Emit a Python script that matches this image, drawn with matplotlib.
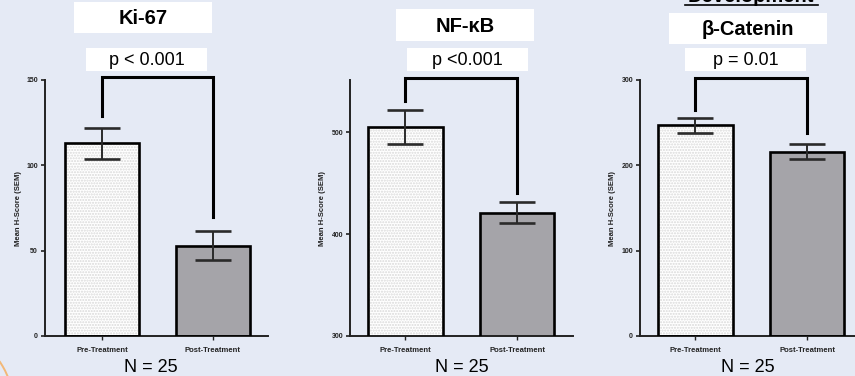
import matplotlib
matplotlib.use("Agg")
import matplotlib.pyplot as plt
from matplotlib.patches import Rectangle

W, H = 855, 376

categories = ["Pre-Treatment", "Post-Treatment"]
titles = ["Ki-67", "NF-κB", "β-Catenin"]
p_labels = ["p < 0.001", "p <0.001", "p = 0.01"]
n_label = "N = 25"
ylabel = "Mean H-Score (SEM)"

ki67_mean = [113, 53]
ki67_sem = [9, 8.5]
nfkb_mean = [505, 421]
nfkb_sem = [16.5, 10.5]
bcat_mean = [247, 216]
bcat_sem = [9, 9]

ki67_bracket = [129, 70, 151.5]
nfkb_bracket = [530, 440, 552.5]
bcat_bracket = [265, 238, 302]

ki67_ticks = [0, 50, 100, 150]
nfkb_ticks = [300, 400, 500]
bcat_ticks = [0, 100, 200, 300]

means = [ki67_mean, nfkb_mean, bcat_mean]
sems = [ki67_sem, nfkb_sem, bcat_sem]
brackets = [ki67_bracket, nfkb_bracket, bcat_bracket]
ticks = [ki67_ticks, nfkb_ticks, bcat_ticks]
ylims = [(0, 150), (300, 551), (0, 300)]

# layout (pixels)
axes_px = [(45, 268), (350, 573), (640, 855)]
xlims = [(-0.514, 1.497), (-0.497, 1.50), (-0.497, 1.43)]
title_boxes = [(74, 2, 212, 33), (396, 9, 534, 41), (669, 13, 827, 44)]
p_boxes = [(86, 48, 207, 71), (407, 48, 528, 71), (685, 48, 806, 71)]
n_x = [151, 462, 748]
ylabel_x = [19, 322, 612]

plt.rcParams["font.family"] = ["Liberation Sans", "DejaVu Sans"]

fig = plt.figure(figsize=(W / 100, H / 100), dpi=100)
fig.patch.set_facecolor("#e5eaf5")

def fx(px):
    return px / W

def fy(py):
    return 1 - py / H

bg = fig.add_axes([0, 0, 1, 1])
bg.set_xlim(0, W)
bg.set_ylim(H, 0)
bg.axis("off")
bg.set_zorder(-5)

# decorative orange arc bottom-left
bg.plot([0, 2.5, 5, 7.5], [362, 366, 370.5, 376], color="#f2b878", lw=1.4)

for i in range(3):
    l, r = axes_px[i]
    ax = fig.add_axes([fx(l), fy(336), fx(r - l), (336 - 80) / H])
    ax.patch.set_alpha(0)
    x = [0, 1]
    # pre bar: dotted texture
    ax.bar(x[0], means[i][0], width=0.667, bottom=0, color="white",
           hatch="......", edgecolor="#d9d9d9", linewidth=0, zorder=2)
    ax.bar(x[1], means[i][1], width=0.667, color="#a5a4a9", linewidth=0, zorder=2)
    ax.bar(x, means[i], width=0.667, fill=False, edgecolor="black",
           linewidth=1.9, zorder=3)
    ax.errorbar(x, means[i], yerr=sems[i], fmt="none", ecolor="#2a2a2a",
                elinewidth=1.4, capsize=13, capthick=1.9, zorder=4)
    b = brackets[i]
    ax.plot([0, 0, 1, 1], [b[0], b[2], b[2], b[1]], color="black", lw=2.2,
            clip_on=False, zorder=5, solid_joinstyle="miter")
    ax.set_xlim(*xlims[i])
    ax.set_ylim(*ylims[i])
    ax.set_yticks(ticks[i])
    ax.set_xticks(x)
    ax.set_xticklabels(categories, fontsize=5.5, fontweight="bold", color="#222222")
    for lab in ax.get_yticklabels():
        lab.set_fontsize(5)
        lab.set_fontweight("bold")
    ax.tick_params(axis="y", length=3, width=1.2, pad=2, colors="#222222")
    ax.tick_params(axis="x", length=3, width=1.0, pad=5, colors="#222222")
    for s in ["top", "right"]:
        ax.spines[s].set_visible(False)
    for s in ["left", "bottom"]:
        ax.spines[s].set_linewidth(1.4)
        ax.spines[s].set_color("#222222")

    # ylabel
    fig.text(fx(ylabel_x[i]), fy(208), ylabel, rotation=90, ha="center",
             va="center", fontsize=5.5, fontweight="bold", color="#222222")

    # title box
    x0, y0, x1, y1 = title_boxes[i]
    bg.add_patch(Rectangle((x0, y0), x1 - x0, y1 - y0, facecolor="white",
                           edgecolor="none", zorder=1))
    bg.text((x0 + x1) / 2, (y0 + y1) / 2 + 1, titles[i], ha="center", va="center",
            fontsize=14.5, fontweight="bold", color="black", zorder=2)
    x0, y0, x1, y1 = p_boxes[i]
    bg.add_patch(Rectangle((x0, y0), x1 - x0, y1 - y0, facecolor="white",
                           edgecolor="none", zorder=1))
    bg.text((x0 + x1) / 2, (y0 + y1) / 2 + 1, p_labels[i], ha="center", va="center",
            fontsize=13, color="black", zorder=2)
    # N label
    bg.text(n_x[i], 368, n_label, ha="center", va="center", fontsize=13,
            color="black")

# partially visible heading at top right (cut off in the reference too)
bg.text(751, 2.5, "Development", ha="center", va="baseline", fontsize=14.5,
        fontweight="bold", color="black")
bg.plot([685, 818], [4.6, 4.6], color="black", lw=1.2)

fig.savefig("out.png", dpi=100, facecolor=fig.get_facecolor())
